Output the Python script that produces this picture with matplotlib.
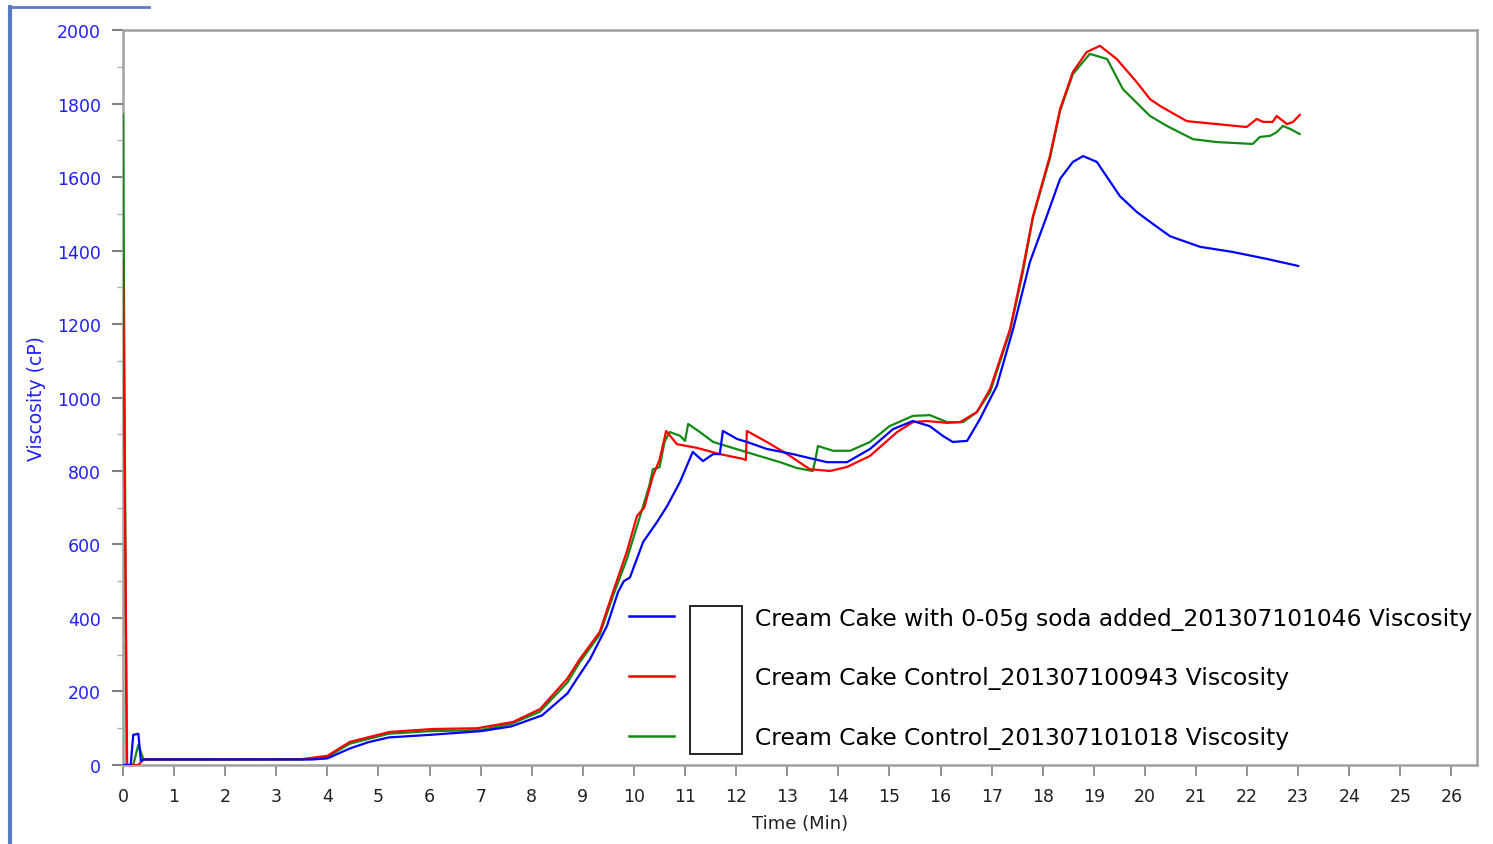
import matplotlib.pyplot as plt
from matplotlib.patches import Rectangle
from matplotlib.lines import Line2D
import numpy as np

# Viscosity traces (time in minutes, viscosity in cP)
soda_t = [0, 0.15, 0.2, 0.3, 0.35, 0.4, 3.7, 4.0, 4.44, 4.8, 5.2, 6.0, 7.0, 7.6, 8.2,
          8.7, 8.88, 9.14, 9.47, 9.69, 9.8, 9.92, 10.18, 10.45, 10.65, 10.9, 11.15, 11.35,
          11.55, 11.68, 11.74, 12.02, 12.21, 12.6, 13.11, 13.5, 13.78, 14.17, 14.62, 15.07,
          15.46, 15.79, 16.05, 16.24, 16.52, 16.77, 16.97, 17.1, 17.42, 17.75, 18.08, 18.34,
          18.59, 18.79, 19.06, 19.51, 19.84, 20.1, 20.49, 21.08, 21.72, 22.39, 23.0]
soda_v = [0, 0, 82, 85, 10, 15, 15, 18, 45, 62, 75, 82, 92, 105, 135,
          195, 234, 288, 378, 471, 500, 510, 607, 661, 705, 770, 852, 827,
          846, 846, 909, 887, 879, 860, 846, 833, 824, 824, 860, 914,
          936, 922, 895, 879, 882, 941, 996, 1031, 1186, 1369, 1494, 1595,
          1641, 1657, 1641, 1548, 1505, 1478, 1439, 1410, 1396, 1377, 1358]

ctrl_0943_t = [0, 0.08, 0.3, 0.4, 3.5, 4.0, 4.44, 5.22, 6.07, 6.93, 7.63, 8.16, 8.69,
               8.94, 9.33, 9.59, 9.86, 10.06, 10.2, 10.37, 10.5, 10.63, 10.84, 11.23,
               11.68, 12.13, 12.19, 12.21, 12.6, 13.0, 13.44, 13.84, 14.17, 14.62, 15.15,
               15.46, 15.73, 16.13, 16.38, 16.71, 16.97, 17.36, 17.61, 17.81, 18.14, 18.34,
               18.59, 18.86, 19.12, 19.45, 19.84, 20.1, 20.3, 20.82, 21.41, 21.99, 22.19,
               22.31, 22.5, 22.58, 22.78, 22.9, 23.03]
ctrl_0943_v = [1370, 0, 0, 15, 16, 25, 63, 90, 98, 100, 117, 152, 234,
               288, 362, 471, 580, 678, 700, 786, 830, 909, 873, 863,
               846, 833, 830, 909, 879, 846, 805, 800, 811, 841, 906,
               933, 936, 931, 933, 960, 1023, 1186, 1350, 1494, 1657, 1785,
               1886, 1940, 1957, 1921, 1858, 1812, 1793, 1752, 1744, 1736, 1758,
               1750, 1750, 1766, 1744, 1750, 1769]

ctrl_1018_t = [0, 0.07, 0.2, 0.3, 0.4, 3.5, 4.0, 4.44, 5.2, 6.0, 7.0, 7.6, 8.16, 8.7,
               8.94, 9.33, 9.59, 9.86, 10.06, 10.3, 10.37, 10.5, 10.6, 10.7, 10.9, 11.0,
               11.06, 11.29, 11.55, 11.88, 12.33, 12.86, 13.19, 13.5, 13.55, 13.6, 13.9,
               14.23, 14.62, 15.0, 15.46, 15.79, 16.13, 16.44, 16.71, 16.97, 17.36, 17.61,
               17.81, 18.14, 18.34, 18.59, 18.92, 19.26, 19.57, 20.1, 20.43, 20.94, 21.41,
               22.11, 22.25, 22.45, 22.58, 22.7, 22.84, 23.03]
ctrl_1018_v = [1770, 0, 0, 55, 15, 15, 22, 58, 85, 92, 95, 112, 145, 225,
               280, 355, 460, 560, 650, 760, 805, 810, 880, 906, 896, 882,
               928, 906, 879, 865, 846, 824, 808, 800, 830, 868, 855,
               855, 879, 922, 950, 952, 933, 933, 960, 1015, 1180, 1340,
               1490, 1650, 1780, 1880, 1935, 1921, 1839, 1766, 1739, 1703, 1695,
               1690, 1709, 1712, 1722, 1739, 1731, 1717]

labels = ["Cream Cake with 0-05g soda added_201307101046 Viscosity",
          "Cream Cake Control_201307100943 Viscosity",
          "Cream Cake Control_201307101018 Viscosity"]
colors = ["#0000ff", "#ff0000", "#138a13"]

plt.rcParams.update({
    "font.family": "DejaVu Sans",
    "font.size": 12,
})

fig = plt.figure(figsize=(14.93, 8.45), dpi=100)
ax = fig.add_axes([0.0824, 0.0935, 0.9069, 0.8698])

series = [(soda_t, soda_v), (ctrl_0943_t, ctrl_0943_v), (ctrl_1018_t, ctrl_1018_v)]
zorders = [2.8, 2.7, 2.6]  # above the spines: green underneath, red over it, blue on top
for (t, v), c, z in zip(series, colors, zorders):
    ax.plot(t, v, color=c, lw=1.6, zorder=z)

ax.set_xlim(0, 26.5)
ax.set_ylim(0, 2000)
ax.set_xticks(np.arange(0, 27, 1))
ax.set_yticks(np.arange(0, 2001, 200))
ax.set_yticks(np.arange(100, 2000, 200), minor=True)

for s in ax.spines.values():
    s.set_color("#a0a0a0")
    s.set_linewidth(1.8)

ax.tick_params(axis="y", which="major", length=8, width=1.5, color="#808080",
               labelcolor="#2020ff", labelsize=12.5, pad=8)
ax.tick_params(axis="y", which="minor", length=4, width=1, color="#b0b0b0")
ax.tick_params(axis="x", which="major", length=8, width=1.2, color="#808080",
               labelcolor="#202020", labelsize=12.5, pad=8)

ax.set_ylabel("Viscosity (cP)", color="#2020ff", fontsize=13.5, labelpad=8)
ax.set_xlabel("Time (Min)", color="#202020", fontsize=13, labelpad=6)

handles = [Line2D([], [], color=c, lw=1.8) for c in colors]
leg = ax.legend(handles, labels, loc="lower left", bbox_to_anchor=(0.374, 0.022),
                frameon=False, fontsize=16.8, handlelength=1.93, handletextpad=3.45,
                labelspacing=1.57, borderpad=0, borderaxespad=0)
leg.set_zorder(6)

# blank box overlaying the legend, as in the screenshot
ax.add_patch(Rectangle((0.4188, 0.015), 0.0384, 0.201, transform=ax.transAxes,
                       facecolor="white", edgecolor="black", lw=1.2, zorder=7))

# window frame remnants at the left edge
fig.add_artist(Line2D([0.0065, 0.0065], [0.0, 0.99], transform=fig.transFigure,
                      color="#5a7cc4", lw=3))
fig.add_artist(Line2D([0.0065, 0.1], [0.99, 0.99], transform=fig.transFigure,
                      color="#5a7cc4", lw=2))

fig.savefig("out.png", dpi=100, facecolor="white")
